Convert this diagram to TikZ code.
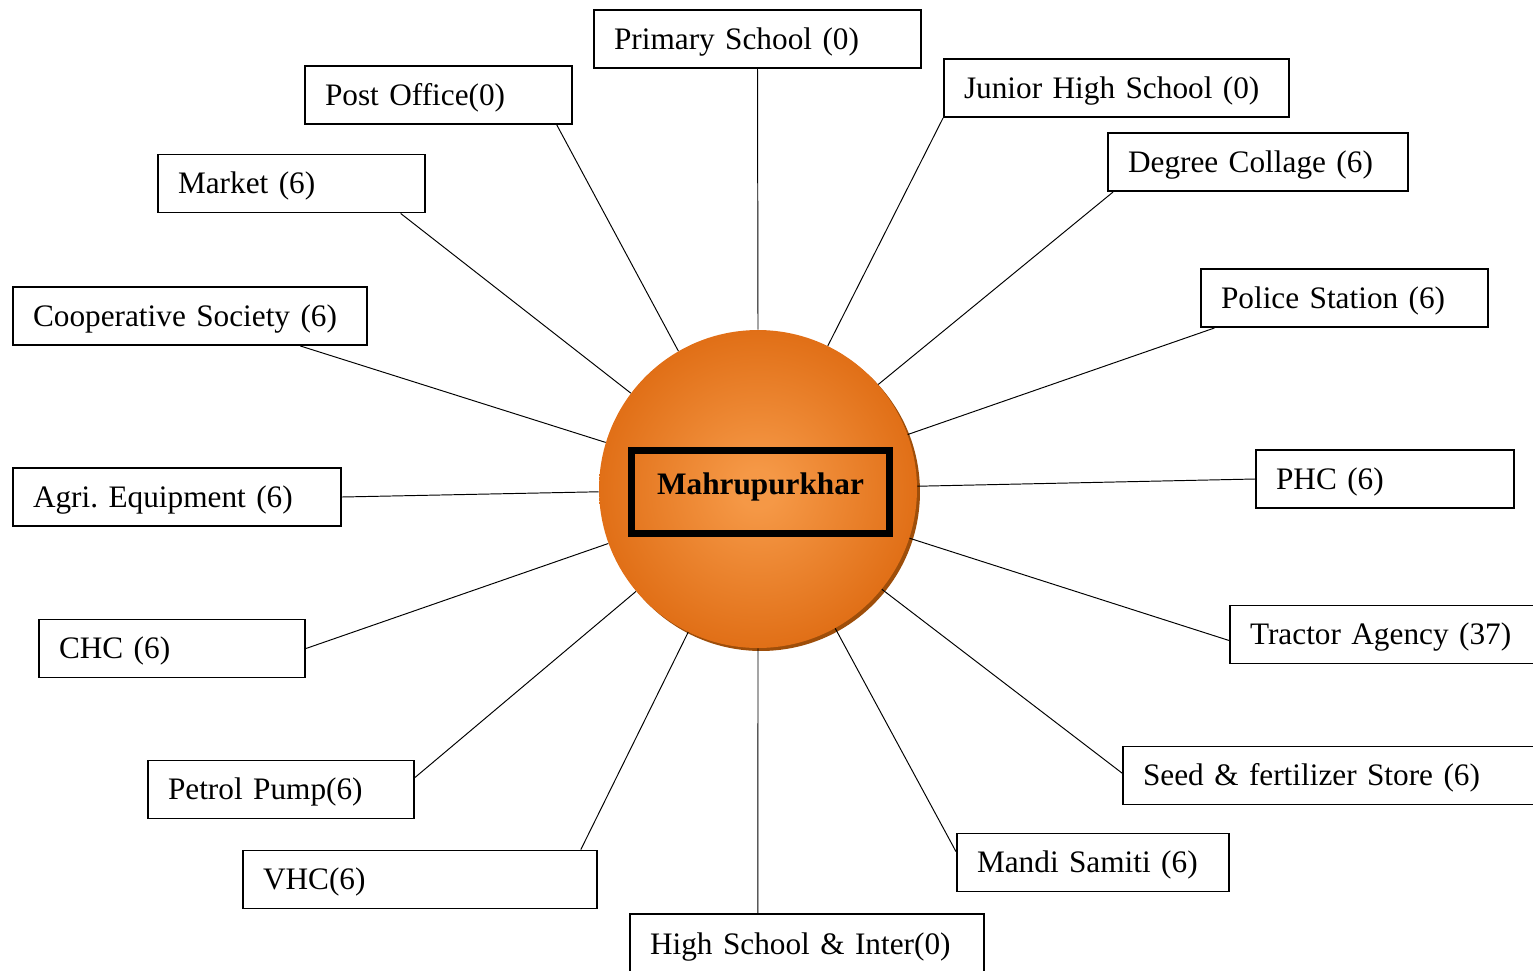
\documentclass[tikz,border=0pt]{standalone}
\usepackage{fontspec}
\setmainfont{Liberation Serif}
\usetikzlibrary{calc}
\definecolor{hubin}{RGB}{245,152,70}
\definecolor{hubout}{RGB}{219,100,10}
\definecolor{hubshadow}{RGB}{158,78,10}
\pgfdeclareradialshading{hubglow}{\pgfpoint{0bp}{0bp}}{color(0bp)=(hubin); color(3bp)=(hubin); color(31bp)=(hubout); color(50bp)=(hubout)}
\tikzset{
  lbl/.style={draw, line width=1.1pt, minimum height=1.16cm, inner xsep=0.4cm,
    align=left, font=\fontsize{17.8}{21}\selectfont\frenchspacing, text width=#1cm,
    text height=15.6pt, text depth=4pt},
  link/.style={line width=0.55pt}
}
\begin{document}
\begin{tikzpicture}[x=0.02cm, y=-0.02cm]
\useasboundingbox (0,0) rectangle (1533,970);
\begin{scope}
\clip (0,0) rectangle (1533,970);

% central village disc with its drop shadow
\fill[hubshadow] (761,492) circle [radius=3.18cm];
\node[circle, inner sep=0pt, minimum size=6.36cm, shade, shading=hubglow] (hub) at (758,489) {};
\node[draw, line width=4pt, minimum width=5.16cm, minimum height=1.66cm,
      text height=12.5pt, text depth=9.5pt,
      font=\fontsize{17.8}{21}\selectfont\bfseries] (title) at (760.5,492) {Mahrupurkhar};

% facilities around the village
\node[lbl=5.74] (primary) at (757.5,39)   {Primary School (0)};
\node[lbl=4.54] (post)    at (438.5,95)   {Post Office(0)};
\node[lbl=6.10] (junior)  at (1116.5,88)  {Junior High School (0)};
\node[lbl=4.54] (market)  at (291.5,183.5){Market (6)};
\node[lbl=5.20] (degree)  at (1258,162)   {Degree Collage (6)};
\node[lbl=6.28] (coop)    at (190,316)    {Cooperative Society (6)};
\node[lbl=4.94] (police)  at (1344.5,298) {Police Station (6)};
\node[lbl=5.76] (agri)    at (177,497)    {Agri. Equipment (6)};
\node[lbl=4.36] (phc)     at (1385,479)   {PHC (6)};
\node[lbl=4.52] (chc)     at (172,648.5)  {CHC (6)};
\node[lbl=5.80] (tractor) at (1395,634.5) {Tractor Agency (37)};
\node[lbl=7.94] (seed)    at (1341.5,775.5){Seed \& fertilizer Store (6)};
\node[lbl=4.52] (petrol)  at (281,789.5)  {Petrol Pump(6)};
\node[lbl=4.64] (mandi)   at (1093,862.5) {Mandi Samiti (6)};
\node[lbl=6.28] (vhc)     at (420,879.5)  {VHC(6)};
\node[lbl=6.28, minimum height=1.22cm] (high) at (807,944.5) {High School \& Inter(0)};

% spokes
\draw[link] (primary.south) -- (hub.90);
\draw[link] ($(post.south west)!0.94!(post.south east)$) -- (hub.120);
\draw[link] (junior.south west) -- (hub.64);
\draw[link] ($(market.south west)!0.906!(market.south east)$) -- (hub.143);
\draw[link] ($(degree.south west)!0.02!(degree.south east)$) -- (hub.41);
\draw[link] ($(coop.south west)!0.81!(coop.south east)$) -- (hub.163);
\draw[link] ($(police.south west)!0.05!(police.south east)$) -- (hub.20);
\draw[link] (agri.east) -- (hub.181);
\draw[link] (phc.west) -- (hub.1);
\draw[link] (chc.east) -- (hub.200);
\draw[link] ($(tractor.north west)!0.6!(tractor.south west)$) -- (hub.342);
\draw[link] ($(petrol.north east)!0.3!(petrol.south east)$) -- (hub.220);
\draw[link] ($(seed.north west)!0.46!(seed.south west)$) -- (hub.321);
\draw[link] ($(vhc.north west)!0.952!(vhc.north east)$) -- (hub.244);
\draw[link] ($(mandi.north west)!0.32!(mandi.south west)$) -- (hub.299);
\draw[link] ($(high.north west)!0.362!(high.north east)$) -- (hub.270);
\end{scope}
\end{tikzpicture}
\end{document}
